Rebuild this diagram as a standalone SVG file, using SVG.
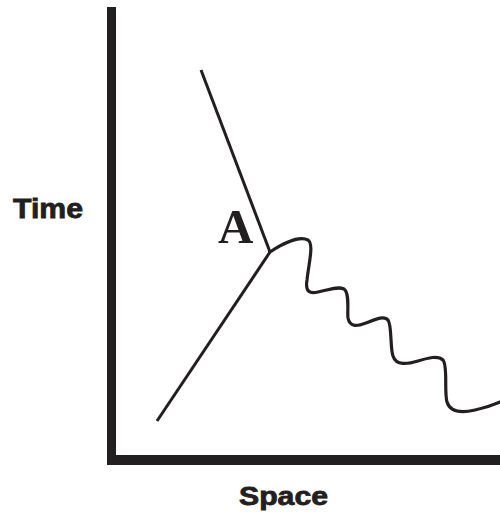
<svg xmlns="http://www.w3.org/2000/svg" width="500" height="516" viewBox="0 0 500 516">
<style>
.axis{fill:#231f20}
.line{fill:none;stroke:#231f20;stroke-width:3;stroke-linecap:butt}
.wave{fill:none;stroke:#231f20;stroke-width:3.2;stroke-linecap:round;stroke-linejoin:round}
.lbl{font-family:"Liberation Sans",Arial,sans-serif;font-weight:bold;fill:#231f20;stroke:#231f20;stroke-width:0.8}
.a{font-family:"Liberation Serif","Times New Roman",serif;font-weight:bold;fill:#231f20}
</style>
<rect width="500" height="516" fill="#fff"/>
<g id="axes">
<rect class="axis" x="107" y="7" width="9" height="458"/>
<rect class="axis" x="107" y="455" width="393" height="10"/>
</g>
<g id="connectors">
<path class="line" d="M201,70 L270,252"/>
<path class="line" d="M270,252 L157,421"/>
<path class="wave" d="M270,252 C285,242 300,236 308,240 C314,244 309,262 307,280 C305,292 310,294 318,292 C328,290 338,286 344,289 C350,293 347,312 348,318 C350,328 358,326 366,323 C374,320 384,315 388,320 C392,325 390,348 393,356 C396,366 408,364 418,361 C428,358 438,355 443,360 C448,366 444,392 447,402 C450,412 462,413 475,410 C485,408 493,405 500,402"/>
</g>
<g id="label-A"><text class="a" x="218" y="243" font-size="49">A</text></g>
<g id="label-time"><text class="lbl" x="13" y="218" font-size="27" textLength="70" lengthAdjust="spacingAndGlyphs">Time</text></g>
<g id="label-space"><text class="lbl" x="239" y="505" font-size="25" textLength="89" lengthAdjust="spacingAndGlyphs">Space</text></g>
</svg>
